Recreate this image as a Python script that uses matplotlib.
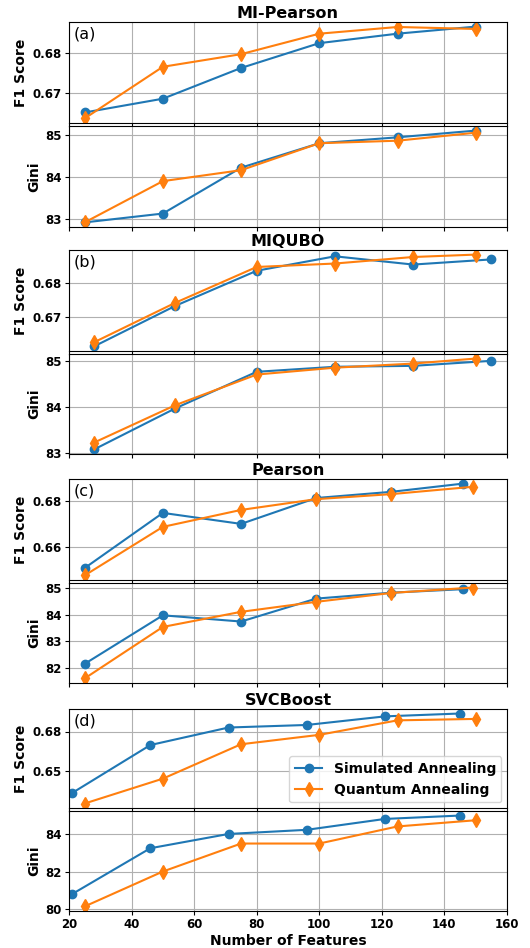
import matplotlib
matplotlib.use("Agg")
import matplotlib.pyplot as plt
from matplotlib.ticker import MaxNLocator, FormatStrFormatter

# panel titles and labels
titles = ["MI-Pearson", "MIQUBO", "Pearson", "SVCBoost"]
tags = ["(a)", "(b)", "(c)", "(d)"]

# number of features (simulated / quantum annealing)
x_sa = [[25, 50, 75, 100, 125, 150],
        [28, 54, 80, 105, 130, 155],
        [25, 50, 75, 99, 123, 146],
        [21, 46, 71, 96, 121, 145]]
x_qa = [[25, 50, 75, 100, 125, 150],
        [28, 54, 80, 105, 130, 150],
        [25, 50, 75, 99, 123, 149],
        [25, 50, 75, 100, 125, 150]]

# F1 score
f1_sa = [[0.6650, 0.6685, 0.6763, 0.6826, 0.6850, 0.6868],
         [0.6615, 0.6733, 0.6835, 0.6877, 0.6853, 0.6868],
         [0.6508, 0.6749, 0.6701, 0.6814, 0.6841, 0.6877],
         [0.6364, 0.6665, 0.6775, 0.6791, 0.6845, 0.6863]]
f1_qa = [[0.6635, 0.6766, 0.6798, 0.6850, 0.6867, 0.6862],
         [0.6627, 0.6742, 0.6846, 0.6856, 0.6875, 0.6882],
         [0.6476, 0.6688, 0.6762, 0.6809, 0.6831, 0.6863],
         [0.6298, 0.6454, 0.6670, 0.6729, 0.6820, 0.6829]]

# Gini
gini_sa = [[82.92, 83.13, 84.22, 84.80, 84.94, 85.10],
           [83.07, 83.97, 84.77, 84.88, 84.90, 85.01],
           [82.17, 83.97, 83.74, 84.59, 84.81, 84.94],
           [80.80, 83.24, 84.00, 84.22, 84.80, 84.98]]
gini_qa = [[82.92, 83.90, 84.16, 84.80, 84.86, 85.05],
           [83.22, 84.04, 84.71, 84.86, 84.95, 85.06],
           [81.63, 83.54, 84.10, 84.47, 84.80, 85.00],
           [80.14, 82.00, 83.49, 83.49, 84.40, 84.73]]

W, H = 530, 948
fig = plt.figure(figsize=(W / 100, H / 100), dpi=100)

# pixel rows (top, bottom) of the F1 / Gini axes for each panel
rows = [((22, 123), (126, 227)),
        ((250, 351), (354, 454)),
        ((479, 580), (583, 683)),
        ((709, 808), (811, 911))]
left, right = 69, 507

steps = [1, 2, 2.5, 5, 10]
first = None
for i in range(4):
    (t1, b1), (t2, b2) = rows[i]
    ax1 = fig.add_axes([left / W, 1 - b1 / H, (right - left) / W, (b1 - t1) / H],
                       sharex=first)
    if first is None:
        first = ax1
    ax2 = fig.add_axes([left / W, 1 - b2 / H, (right - left) / W, (b2 - t2) / H],
                       sharex=first)

    ax1.plot(x_sa[i], f1_sa[i], marker="o", ms=6, color="#1f77b4",
             label="Simulated Annealing")
    ax1.plot(x_qa[i], f1_qa[i], marker="d", ms=7, color="#ff7f0e",
             label="Quantum Annealing")
    ax2.plot(x_sa[i], gini_sa[i], marker="o", ms=6, color="#1f77b4")
    ax2.plot(x_qa[i], gini_qa[i], marker="d", ms=7, color="#ff7f0e")

    ax1.yaxis.set_major_locator(MaxNLocator(3, steps=steps))
    ax1.yaxis.set_major_formatter(FormatStrFormatter("%.2f"))
    ax2.yaxis.set_major_locator(MaxNLocator(4, steps=steps))

    ax1.set_title(titles[i], fontsize=11.5, fontweight="bold", pad=3)
    ax1.text(0.01, 0.88, tags[i], transform=ax1.transAxes, fontsize=11.5,
             va="center")
    ax1.set_ylabel("F1 Score", fontsize=10, fontweight="bold", labelpad=3)
    ax2.set_ylabel("Gini", fontsize=10, fontweight="bold", labelpad=3)

    for ax in (ax1, ax2):
        ax.grid(True)
        ax.tick_params(labelsize=8.5, length=2.8, pad=2.5)
    ax1.tick_params(labelbottom=False)
    if i < 3:
        ax2.tick_params(labelbottom=False)
    else:
        ax2.set_xlabel("Number of Features", fontsize=10, fontweight="bold",
                       labelpad=2)
        ax1.legend(loc="lower right", prop={"weight": "bold", "size": 10},
                   borderaxespad=0.4)

first.set_xlim(20, 160)
first.set_xticks(range(20, 161, 20))
for ax in fig.axes:
    for lab in ax.get_yticklabels() + ax.get_xticklabels():
        lab.set_fontweight("bold")

fig.savefig("out.png", dpi=100)
